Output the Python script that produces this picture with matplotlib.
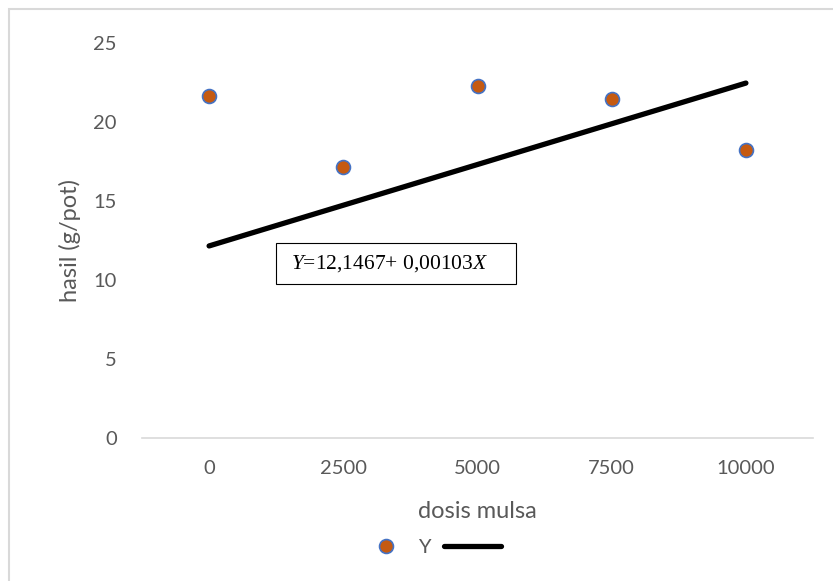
import matplotlib.pyplot as plt
from matplotlib.patches import Rectangle

plt.rcParams['font.family'] = ['Lato', 'DejaVu Sans']
plt.rcParams['mathtext.fontset'] = 'custom'
plt.rcParams['mathtext.it'] = 'Liberation Serif:italic'
plt.rcParams['mathtext.rm'] = 'Liberation Serif'

# data
dosis = [0, 2500, 5000, 7500, 10000]
hasil = [21.6, 17.15, 22.25, 21.45, 18.2]
a, b = 12.1467, 0.00103          # regression line Y = a + bX
line_x = [0, 10000]
line_y = [a + b * v for v in line_x]
yticks = [0, 5, 10, 15, 20, 25]

grey = '#595959'
fig = plt.figure(figsize=(8.33, 5.81), dpi=100)
ax = fig.add_axes([142 / 833, 1 - 438 / 581, (813 - 142) / 833, (438 - 42.7) / 581])

pts, = ax.plot(dosis, hasil, 'o', ms=10, mfc='#C55A11', mec='#4472C4', mew=1.2,
               linestyle='none', zorder=3)
reg, = ax.plot(line_x, line_y, color='black', lw=3.8, solid_capstyle='round', zorder=2)

ax.set_xlim(-1250, 11250)
ax.set_ylim(0, 25)
ax.set_xticks(dosis)
ax.set_yticks(yticks)
ax.tick_params(length=0, labelsize=14.5, labelcolor=grey)
ax.tick_params(axis='x', pad=16)
ax.tick_params(axis='y', pad=18)
for s in ['top', 'right', 'left']:
    ax.spines[s].set_visible(False)
ax.spines['bottom'].set_color('#D9D9D9')
ax.spines['bottom'].set_linewidth(1.2)

ax.set_xlabel('dosis mulsa', fontsize=17, color=grey)
ax.xaxis.set_label_coords(0.5, -0.187)
ax.xaxis.label.set_va('center')
ax.set_ylabel('hasil (g/pot)', fontsize=17, color=grey)
ax.yaxis.set_label_coords(-0.1073, 0.5)
ax.yaxis.label.set_va('center')

# equation box
ax.add_patch(Rectangle((0.1997, 0.3896), 0.3577, 0.1037, transform=ax.transAxes,
                       fc='white', ec='black', lw=0.8, zorder=4))
ax.text(0.3686, 0.4414, r'$\mathit{Y}$=12,1467+ 0,00103$\mathit{X}$',
        transform=ax.transAxes, ha='center', va='center', fontsize=15.5,
        family='Liberation Serif', zorder=5)

fig.legend([pts, reg], ['Y', ''], loc='center', bbox_to_anchor=(431 / 833, 1 - 547 / 581),
           ncol=2, frameon=False, fontsize=14.5, labelcolor=grey, handlelength=2.8,
           columnspacing=0.7, handletextpad=0.15, borderpad=0)

fig.patches.append(Rectangle((9 / 833, -0.1), 1.2, 1 - 9 / 581 + 0.1, transform=fig.transFigure,
                             fill=False, ec='#D9D9D9', lw=1.5))

fig.savefig('out.png', dpi=100)
